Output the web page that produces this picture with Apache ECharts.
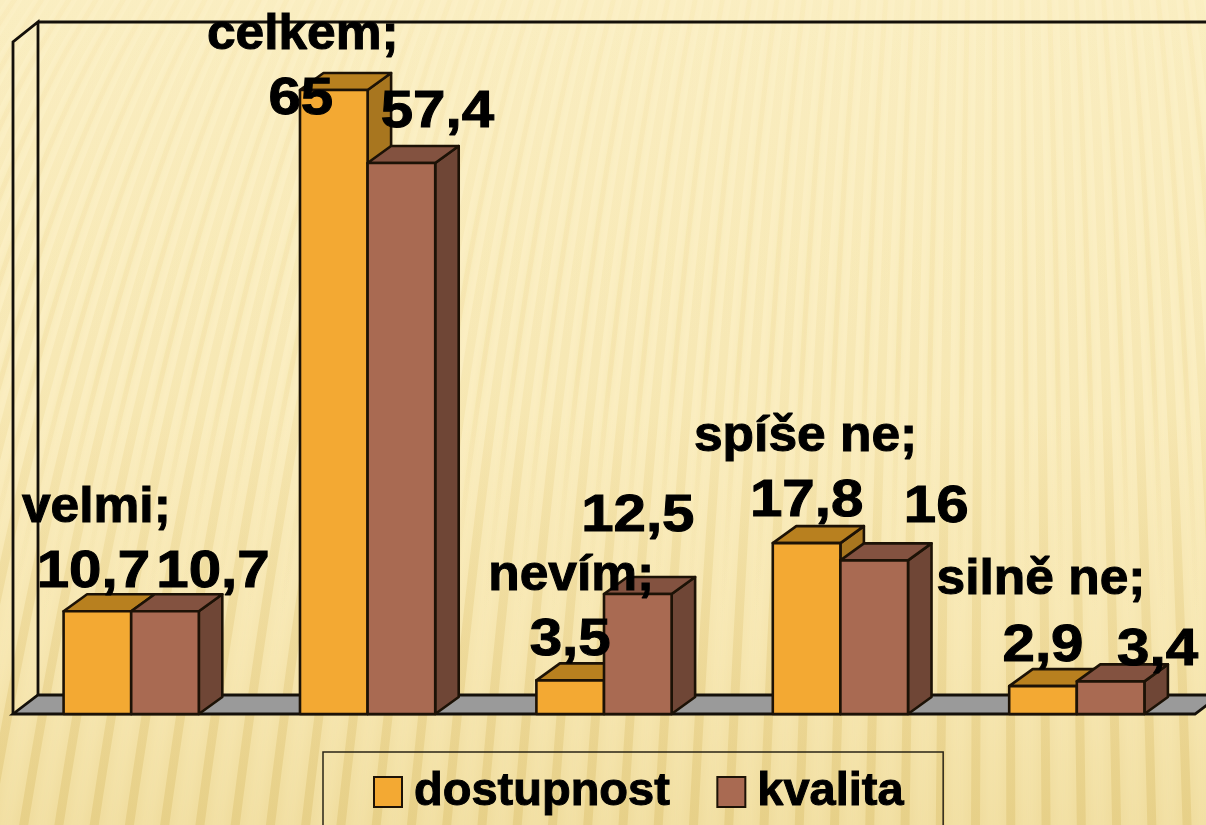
<!DOCTYPE html>
<html><head><meta charset="utf-8">
<style>html,body{margin:0;padding:0;background:#f8ebbb}#c{width:1206px;height:825px;overflow:hidden}</style>
<script src="https://cdn.jsdelivr.net/npm/echarts@6/dist/echarts.min.js"></script>
</head><body><div id="c"></div>
<script>
const categories = ['velmi;', 'celkem;', 'nevím;', 'spíše ne;', 'silně ne;'];
const dostupnost = [10.7, 65, 3.5, 17.8, 2.9];
const kvalita = [10.7, 57.4, 12.5, 16, 3.4];
const seriesNames = ['dostupnost', 'kvalita'];

// label placement relative to the bar's top-centre: [dx, baseline dy]
const valueOffsets = [
  [[-4, -24], [-33, 25], [0, -25], [0, -26], [0, -24]],
  [[48, -24], [36, -35], [0, -62], [62, -38], [47, -16]]
];
const categoryOffsets = [[-1, -89], [-31, -40], [1, -90], [-1, -91], [-2, -91]];

const FONT = '"Liberation Sans", Arial, sans-serif';
const palette = [
  { face: '#f3a933', top: '#b8801f', side: '#a8761f' },
  { face: '#a96a52', top: '#835240', side: '#6f4636' }
];
const EDGE = '#1c1206';
const DEPTH = [23.5, 17];

const fmt = v => String(v).replace('.', ',');

function barItem(seriesIndex) {
  return function (params, api) {
    const base = api.coord([api.value(0), 0]);
    const top = api.coord([api.value(0), api.value(1)]);
    const w = api.size([1, 0])[0] * 0.286;
    const x0 = base[0] + (seriesIndex === 0 ? -w : 0), x1 = x0 + w;
    const yT = top[1], yB = base[1];
    const [dx, dy] = DEPTH;
    const c = palette[seriesIndex];
    const stroke = { stroke: EDGE, lineWidth: 2.6, lineJoin: 'round' };
    const poly = (points, fill) => ({ type: 'polygon', shape: { points }, style: Object.assign({ fill }, stroke) });
    return {
      type: 'group',
      children: [
        poly([[x1, yB], [x1 + dx, yB - dy], [x1 + dx, yT - dy], [x1, yT]], c.side),
        poly([[x0, yT], [x0 + dx, yT - dy], [x1 + dx, yT - dy], [x1, yT]], c.top),
        poly([[x0, yB], [x0, yT], [x1, yT], [x1, yB]], c.face)
      ]
    };
  };
}

function text(x, y, str, size, sx) {
  return {
    type: 'text', x, y: y - size * 0.79, scaleX: sx,
    style: { text: str, x: 0, y: 0, align: 'center', verticalAlign: 'top', fill: '#000', stroke: '#000', lineWidth: 1, font: 'bold ' + size + 'px ' + FONT }
  };
}

function labelItem(params, api) {
  const i = api.value(0);
  const w = api.size([1, 0])[0] * 0.286;
  const kids = [];
  [dostupnost, kvalita].forEach((arr, s) => {
    const p = api.coord([i, arr[i]]);
    const cx = p[0] + (s === 0 ? -w / 2 : w / 2);
    const o = valueOffsets[s][i];
    kids.push(text(cx + o[0], p[1] + o[1], fmt(arr[i]), 52, 1.12));
    if (s === 0) {
      const c = categoryOffsets[i];
      kids.push(text(cx + c[0], p[1] + c[1], categories[i], 50, 1.03));
    }
  });
  return { type: 'group', children: kids };
}

function frameItem(params) {
  const g = params.coordSys;
  const L = g.x, R = g.x + g.width, T = g.y, B = g.y + g.height;
  const fx = 25, fy = 19;
  const st = { stroke: '#14100a', lineWidth: 2.8, fill: null };
  const line = pts => ({ type: 'polyline', shape: { points: pts }, style: st });
  return {
    type: 'group',
    children: [
      { type: 'polygon', shape: { points: [[L, B], [L + fx, B - fy], [R + fx, B - fy], [R, B]] }, style: { fill: '#9a9a9a', stroke: '#14100a', lineWidth: 2.8 } },
      line([[L, B], [L, T], [L + fx, T - fy - 1], [L + fx, B - fy]]),
      line([[L + fx, T - fy - 1], [R + fx, T - fy - 1]])
    ]
  };
}

// paper texture behind the chart
function stripes() {
  const out = [];
  const fan = (y, s) => 1000 + s * Math.pow(y + 267, 0.183);
  const make = (s, width, blur, stops) => {
    const points = [];
    for (let y = -10; y <= 835; y += 65) points.push([fan(y, s), y]);
    return {
      type: 'polyline', z: -5, silent: true,
      shape: { points, smooth: 0.3 },
      style: {
        fill: null, lineWidth: width, shadowBlur: blur, shadowColor: 'rgba(225,195,110,0.8)',
        stroke: { type: 'linear', x: 0, y: 0, x2: 0, y2: 825, global: true, colorStops: stops }
      }
    };
  };
  const wide = [
    { offset: 0, color: 'rgba(236,214,140,0.08)' },
    { offset: 0.45, color: 'rgba(236,214,140,0.22)' },
    { offset: 0.8, color: 'rgba(228,203,128,0.45)' },
    { offset: 1, color: 'rgba(226,202,125,0.65)' }
  ];
  const fine = [
    { offset: 0, color: 'rgba(236,214,140,0.10)' },
    { offset: 0.45, color: 'rgba(236,214,140,0.25)' },
    { offset: 0.75, color: 'rgba(236,214,140,0)' },
    { offset: 1, color: 'rgba(236,214,140,0)' }
  ];
  for (let i = -46; i <= 26; i++) {
    const s = i * 9.8 + 3;
    out.push(make(s, 9, 18, wide));
    out.push(make(s + 4.9, 5, 6, fine));
  }
  return out;
}

const chart = echarts.init(document.getElementById('c'), null, { renderer: 'canvas', width: 1206, height: 825 });
chart.setOption({
  animation: false,
  graphic: [
    { type: 'rect', z: -10, silent: true, shape: { x: 0, y: 0, width: 1206, height: 825 },
      style: { fill: { type: 'linear', x: 0, y: 0, x2: 0, y2: 1, colorStops: [
        { offset: 0, color: '#fcf1c8' }, { offset: 0.5, color: '#fcf0c5' }, { offset: 0.8, color: '#f8e9b6' }, { offset: 1, color: '#f3e2a8' }] } } }
  ].concat(stripes()),
  grid: { left: 13, width: 1182, top: 42, height: 672 },
  xAxis: { type: 'category', data: categories, show: false },
  yAxis: { type: 'value', min: 0, max: 70, show: false },
  legend: {
    data: seriesNames, left: 323, top: 752, padding: [16, 39, 60, 50], itemGap: 46,
    itemWidth: 28, itemHeight: 30, borderColor: '#2a2416', borderWidth: 1.5, selectedMode: false,
    icon: 'rect',
    textStyle: { fontFamily: FONT, fontWeight: 'bold', fontSize: 47, color: '#000', textBorderColor: '#000', textBorderWidth: 1, padding: [0, 0, 0, 7] }
  },
  series: [
    { type: 'custom', name: 'frame', silent: true, z: 1, clip: false, renderItem: frameItem, data: [[0, 0]], encode: { x: 0, y: 1 } },
    { type: 'custom', name: seriesNames[0], z: 2, clip: false, renderItem: barItem(0),
      itemStyle: { color: palette[0].face, borderColor: EDGE, borderWidth: 2.4 },
      data: dostupnost.map((v, i) => [i, v]), encode: { x: 0, y: 1 } },
    { type: 'custom', name: seriesNames[1], z: 3, clip: false, renderItem: barItem(1),
      itemStyle: { color: palette[1].face, borderColor: EDGE, borderWidth: 2.4 },
      data: kvalita.map((v, i) => [i, v]), encode: { x: 0, y: 1 } },
    { type: 'custom', name: 'labels', silent: true, z: 10, clip: false, renderItem: labelItem,
      data: categories.map((c, i) => [i, 0]), encode: { x: 0, y: 1 } }
  ]
});
</script></body></html>
